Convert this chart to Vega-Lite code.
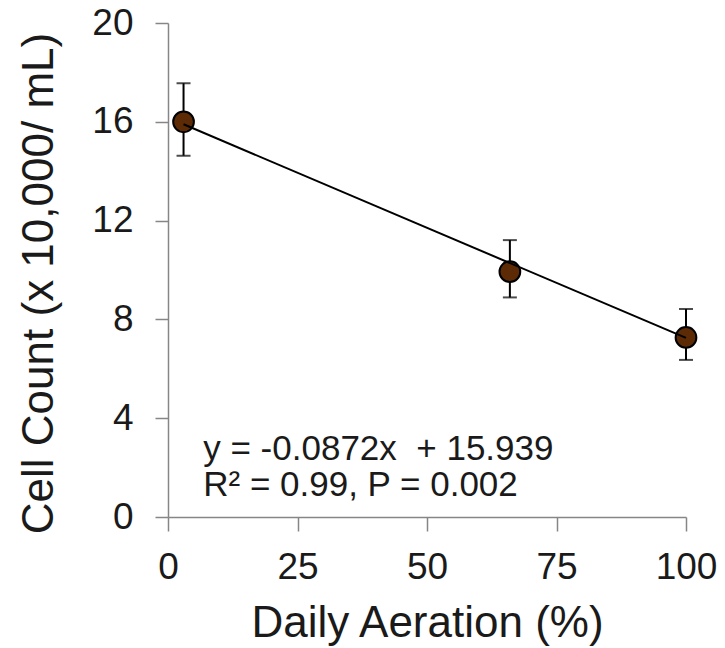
{
  "$schema": "https://vega.github.io/schema/vega-lite/v6.json",
  "width": 518,
  "height": 494,
  "autosize": {"type": "none"},
  "padding": {"left": 168, "top": 23, "right": 39, "bottom": 131},
  "background": "white",
  "config": {
    "view": {"stroke": null},
    "font": "Liberation Sans",
    "axis": {
      "grid": false,
      "domainColor": "#868686",
      "tickColor": "#868686",
      "domainWidth": 1.5,
      "tickWidth": 1.5,
      "labelFont": "Liberation Sans",
      "titleFont": "Liberation Sans",
      "labelFontSize": 37,
      "titleFontSize": 44,
      "titleFontWeight": "normal",
      "labelColor": "#1a1a1a",
      "titleColor": "#1a1a1a",
      "labelFlush": false,
      "labelOverlap": false
    }
  },
  "datasets": {
    "points": [
      {"aeration": 3, "count": 16.0, "lower": 14.63, "upper": 17.56},
      {"aeration": 66, "count": 9.93, "lower": 8.89, "upper": 11.21},
      {"aeration": 100, "count": 7.27, "lower": 6.36, "upper": 8.42}
    ],
    "trend": [
      {"aeration": 3, "count": 15.9},
      {"aeration": 100, "count": 7.25}
    ],
    "notes": [
      {"aeration": 6.8, "count": 2.31, "label": "y = -0.0872x\u00a0 + 15.939"},
      {"aeration": 6.8, "count": 0.85, "label": "R² = 0.99, P = 0.002"}
    ]
  },
  "layer": [
    {
      "data": {"name": "points"},
      "mark": {"type": "rule", "color": "#000000", "strokeWidth": 2},
      "encoding": {
        "x": {
          "field": "aeration",
          "type": "quantitative",
          "scale": {"domain": [0, 100], "nice": false, "zero": false},
          "axis": {
            "title": "Daily Aeration (%)",
            "values": [0, 25, 50, 75, 100],
            "tickSize": 14,
            "labelPadding": 18,
            "titlePadding": 16
          }
        },
        "y": {
          "field": "lower",
          "type": "quantitative",
          "scale": {"domain": [0, 20], "nice": false},
          "axis": {
            "title": "Cell Count (x 10,000/ mL)",
            "values": [0, 4, 8, 12, 16, 20],
            "tickSize": 13,
            "labelPadding": 22,
            "titleX": -107,
            "titleY": 260
          }
        },
        "y2": {"field": "upper"}
      }
    },
    {
      "data": {"name": "points"},
      "mark": {"type": "tick", "orient": "horizontal", "color": "#000000", "size": 14, "thickness": 2},
      "encoding": {
        "x": {"field": "aeration", "type": "quantitative"},
        "y": {"field": "upper", "type": "quantitative"}
      }
    },
    {
      "data": {"name": "points"},
      "mark": {"type": "tick", "orient": "horizontal", "color": "#000000", "size": 14, "thickness": 2},
      "encoding": {
        "x": {"field": "aeration", "type": "quantitative"},
        "y": {"field": "lower", "type": "quantitative"}
      }
    },
    {
      "data": {"name": "points"},
      "mark": {"type": "point", "shape": "circle", "filled": true, "fill": "#5C2B06", "stroke": "#000000", "strokeWidth": 2, "size": 430, "opacity": 1},
      "encoding": {
        "x": {"field": "aeration", "type": "quantitative"},
        "y": {"field": "count", "type": "quantitative"}
      }
    },
    {
      "data": {"name": "trend"},
      "mark": {"type": "line", "color": "#000000", "strokeWidth": 2},
      "encoding": {
        "x": {"field": "aeration", "type": "quantitative"},
        "y": {"field": "count", "type": "quantitative"}
      }
    },
    {
      "data": {"name": "notes"},
      "mark": {"type": "text", "align": "left", "baseline": "alphabetic", "fontSize": 35, "color": "#1a1a1a", "font": "Liberation Sans"},
      "encoding": {
        "x": {"field": "aeration", "type": "quantitative"},
        "y": {"field": "count", "type": "quantitative"},
        "text": {"field": "label"}
      }
    }
  ]
}
